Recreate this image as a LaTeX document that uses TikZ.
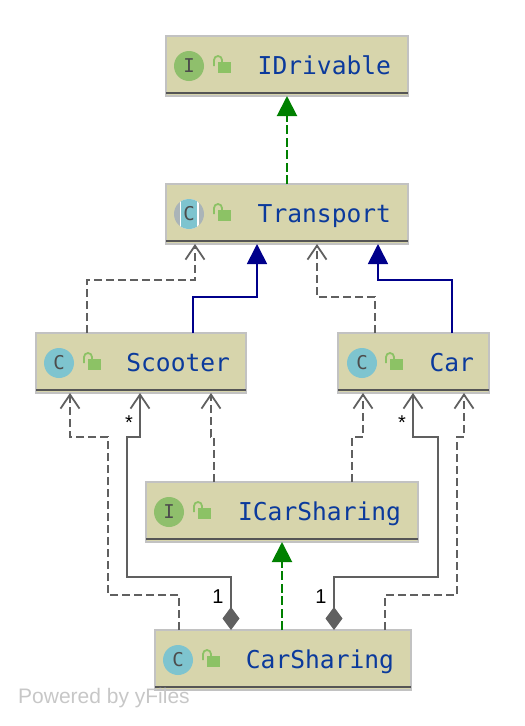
\documentclass[tikz,border=0pt]{standalone}
\usepackage{fontspec}
\setmainfont{Liberation Sans}
\setmonofont{DejaVu Sans Mono}
\usetikzlibrary{arrows.meta}
\definecolor{boxfill}{HTML}{D7D5AC}
\definecolor{boxline}{HTML}{C2C2C2}
\definecolor{boxrule}{HTML}{555555}
\definecolor{classtext}{HTML}{0B3A9C}
\definecolor{ifacegreen}{HTML}{8FBF6C}
\definecolor{classteal}{HTML}{7EC4CF}
\definecolor{abstractgrey}{HTML}{AAB4B8}
\definecolor{lockgreen}{HTML}{8CC265}
\definecolor{edgegrey}{HTML}{606060}
\definecolor{implgreen}{HTML}{008000}
\definecolor{extnavy}{HTML}{00008B}
\tikzset{
  classbox/.style={draw=boxline,fill=boxfill,line width=1.5pt,outer sep=0pt,minimum height=60pt,
    inner xsep=17pt,align=right,text=classtext,text height=20pt,text depth=4pt,
    font=\ttfamily\fontsize{24.6}{26}\selectfont},
  iconbase/.style={circle,minimum size=30pt,inner sep=0pt,text=black!70,
    font=\ttfamily\fontsize{19}{21}\selectfont},
  ifaceicon/.style={iconbase,fill=ifacegreen},
  classicon/.style={iconbase,fill=classteal},
  abstracticon/.style={iconbase,fill=abstractgrey,
    path picture={\fill[white] ([xshift=-9.5pt,yshift=-15pt]path picture bounding box.center) rectangle ++(19pt,30pt);
      \fill[classteal] ([xshift=-8pt,yshift=-15pt]path picture bounding box.center) rectangle ++(16pt,30pt);}},
  lockicon/.pic={
    \fill[lockgreen] (-1,-4) rectangle (12,7);
    \draw[lockgreen,line width=1.8pt] (-5,0) -- (-5,-6) arc[start angle=180,end angle=0,radius=4pt] -- (3,-4);
  },
  dep/.style={draw=edgegrey,line width=2pt,dash pattern=on 8pt off 4pt,
    -{Straight Barb[length=14pt,width=19pt,line width=1.8pt]}},
  assoc/.style={draw=edgegrey,line width=2pt,
    {Diamond[length=23pt,width=17pt,fill=edgegrey]}-{Straight Barb[length=14pt,width=19pt,line width=1.8pt]}},
  impl/.style={draw=implgreen,line width=2pt,dash pattern=on 9pt off 3.5pt,
    -{Triangle[length=20pt,width=20pt,fill=implgreen]}},
  ext/.style={draw=extnavy,line width=1.7pt,
    -{Triangle[length=20pt,width=20pt,fill=extnavy]}},
  mult/.style={font=\fontsize{20}{22}\selectfont,inner sep=0pt,text=black},
}
\begin{document}
\begin{tikzpicture}[x=1pt,y=-1pt]
\useasboundingbox (0,0) rectangle (525,726);

\node[classbox,text width=208pt] (idrivable) at (287,66) {IDrivable};
\node[classbox,text width=208pt] (transport) at (287,214) {Transport};
\node[classbox,inner xsep=16pt,text width=178pt] (scooter) at (141,363) {Scooter};
\node[classbox,inner xsep=15pt,text width=121pt] (car) at (413.5,363) {Car};
\node[classbox,text width=238pt] (icarsharing) at (282,512) {ICarSharing};
\node[classbox,text width=222pt] (carsharing) at (283,660) {CarSharing};

\foreach \n in {idrivable,transport,scooter,car,icarsharing,carsharing}
  \draw[boxrule,line width=2pt] ([yshift=3pt]\n.south west) -- ([yshift=3pt]\n.south east);

\node[ifaceicon] (idrivableicon) at ([xshift=23pt]idrivable.west) {I};
\node[abstracticon] (transporticon) at ([xshift=23pt]transport.west) {C};
\node[classicon] (scootericon) at ([xshift=23pt]scooter.west) {C};
\node[classicon] (caricon) at ([xshift=24pt]car.west) {C};
\node[ifaceicon] (icarsharingicon) at ([xshift=23pt]icarsharing.west) {I};
\node[classicon] (carsharingicon) at ([xshift=23pt]carsharing.west) {C};

\pic at ([xshift=53pt]idrivable.west) {lockicon};
\pic at ([xshift=53pt]transport.west) {lockicon};
\pic at ([xshift=53pt]scooter.west) {lockicon};
\pic at ([xshift=53pt]car.west) {lockicon};
\pic at ([xshift=53pt]icarsharing.west) {lockicon};
\pic at ([xshift=53pt]carsharing.west) {lockicon};

\draw[impl] (transport.north) to (idrivable.south);
\draw[dep] ([xshift=-54pt]scooter.north) -- ++(0,-53) -- ++(108,0) -- ([xshift=-92pt]transport.south);
\draw[ext] ([xshift=52pt]scooter.north) -- ++(0,-36) -- ++(64,0) -- ([xshift=-30pt]transport.south);
\draw[dep] ([xshift=-38.5pt]car.north) -- ++(0,-36) -- ++(-58,0) -- ([xshift=30pt]transport.south);
\draw[ext] ([xshift=38.5pt]car.north) -- ++(0,-53) -- ++(-74,0) -- ([xshift=91pt]transport.south);

\draw[dep] ([xshift=-68pt]icarsharing.north) -- ++(0,-45) -- ++(-3,0) -- ([xshift=70pt]scooter.south);
\draw[dep] ([xshift=70pt]icarsharing.north) -- ++(0,-45) -- ++(11,0) -- ([xshift=-50.5pt]car.south);
\draw[impl] ([xshift=-1pt]carsharing.north) to (icarsharing.south);

\draw[dep] ([xshift=-104pt]carsharing.north) -- ++(0,-35) -- ++(-71,0) -- ++(0,-158) -- ++(-38,0) -- ([xshift=-71pt]scooter.south);
\draw[dep] ([xshift=102pt]carsharing.north) -- ++(0,-35) -- ++(72,0) -- ++(0,-158) -- ++(7,0) -- ([xshift=50.5pt]car.south);
\draw[assoc] ([xshift=-52pt]carsharing.north) -- ++(0,-53) -- ++(-104,0) -- ++(0,-140) -- ++(13,0) -- ([xshift=-1pt]scooter.south);
\draw[assoc] ([xshift=51pt]carsharing.north) -- ++(0,-53) -- ++(104,0) -- ++(0,-140) -- ++(-25,0) -- ([xshift=-0.5pt]car.south);

\node[mult] (scootermany) at (129,423) {*};
\node[mult] (carmany) at (402,423) {*};
\node[mult] (scooterone) at (218,597) {1};
\node[mult] (carone) at (321,597) {1};
\node[anchor=west,inner sep=0pt,text=black!22,font=\fontsize{21}{24}\selectfont] (poweredby) at (18,698) {Powered by yFiles};
\end{tikzpicture}
\end{document}
